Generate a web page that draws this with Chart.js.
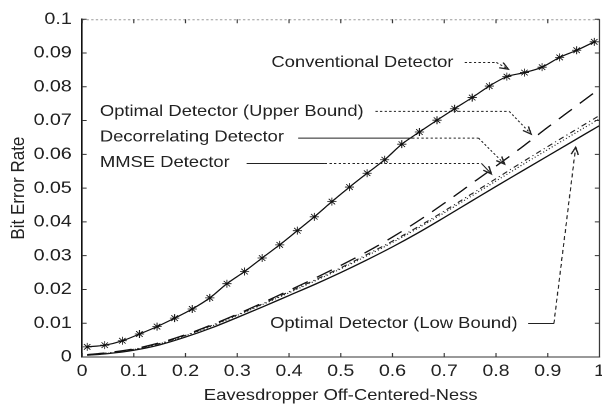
<!DOCTYPE html>
<html>
<head>
<meta charset="utf-8">
<script src="https://cdn.jsdelivr.net/npm/chart.js@4.4.1/dist/chart.umd.min.js"></script>
<style>
  html, body { margin: 0; padding: 0; background: #fff; overflow: hidden; }
  /* the figure is set a little wider than tall, like the printed plot */
  #box { width: 530px; height: 407px; transform: scaleX(1.15); transform-origin: 0 0; }
</style>
</head>
<body>
<div id="box"><canvas id="myChart"></canvas></div>
<script>
// conventional detector, simulated points (asterisks)
let convX = [0.010, 0.044, 0.078, 0.111, 0.145, 0.179, 0.213, 0.247, 0.280, 0.314,
             0.348, 0.382, 0.416, 0.449, 0.483, 0.517, 0.551, 0.585, 0.618, 0.652,
             0.686, 0.720, 0.754, 0.787, 0.821, 0.855, 0.889, 0.923, 0.956, 0.990];
let convBER = [0.0030, 0.0035, 0.0048, 0.0068, 0.0090, 0.0115, 0.0142, 0.0175, 0.0217, 0.0253,
               0.0293, 0.0332, 0.0374, 0.0415, 0.0460, 0.0503, 0.0544, 0.0584, 0.0630, 0.0666,
               0.0701, 0.0735, 0.0768, 0.0802, 0.0830, 0.0842, 0.0858, 0.0887, 0.0908, 0.0933];

// the other four detectors share one x grid
let detX = [0.01, 0.05, 0.10, 0.15, 0.20, 0.25, 0.30, 0.35, 0.40, 0.45, 0.50,
            0.55, 0.60, 0.65, 0.70, 0.75, 0.80, 0.85, 0.90, 0.95, 1.00];
let upperBER = [0.0007, 0.0013, 0.0024, 0.0042, 0.0066, 0.0095, 0.0127, 0.0161, 0.0197, 0.0233, 0.0271,
                0.0311, 0.0355, 0.0403, 0.0455, 0.0510, 0.0565, 0.0621, 0.0680, 0.0737, 0.0794];
let decorBER = [0.0007, 0.0012, 0.0023, 0.0040, 0.0064, 0.0093, 0.0125, 0.0158, 0.0193, 0.0228, 0.0264,
                0.0303, 0.0343, 0.0386, 0.0432, 0.0480, 0.0528, 0.0576, 0.0623, 0.0669, 0.0715];
let mmseBER = [0.0006, 0.0011, 0.0022, 0.0039, 0.0063, 0.0091, 0.0123, 0.0156, 0.0190, 0.0225, 0.0261,
               0.0299, 0.0339, 0.0382, 0.0427, 0.0474, 0.0521, 0.0568, 0.0614, 0.0660, 0.0705];
let lowBER = [0.0005, 0.0010, 0.0020, 0.0036, 0.0059, 0.0086, 0.0117, 0.0149, 0.0182, 0.0215, 0.0250,
              0.0287, 0.0326, 0.0368, 0.0413, 0.0459, 0.0505, 0.0550, 0.0595, 0.0640, 0.0685];

let xTicks = [0, 0.1, 0.2, 0.3, 0.4, 0.5, 0.6, 0.7, 0.8, 0.9, 1];
let xLabels = ['0', '0.1', '0.2', '0.3', '0.4', '0.5', '0.6', '0.7', '0.8', '0.9', '1'];
let yTicks = [0, 0.01, 0.02, 0.03, 0.04, 0.05, 0.06, 0.07, 0.08, 0.09, 0.1];
let yLabels = ['0', '0.01', '0.02', '0.03', '0.04', '0.05', '0.06', '0.07', '0.08', '0.09', '0.1'];

// curve names with their leader lines, in data units; last point is the arrow tip
let notes = [
  {text: 'Conventional Detector', x: 0.366, y: 0.0872,
   path: [[0.7395, 0.0872], [0.8008, 0.0872], [0.8238, 0.0852]], dash: [[2, 2], [2, 2]]},
  {text: 'Optimal Detector (Upper Bound)', x: 0.0345, y: 0.0727,
   path: [[0.567, 0.0727], [0.8257, 0.0727], [0.8678, 0.0660]], dash: [[2, 2], [2, 2]]},
  {text: 'Decorrelating Detector', x: 0.0345, y: 0.0651,
   path: [[0.4176, 0.0648], [0.638, 0.0648], [0.7663, 0.0648], [0.8167, 0.0571]], dash: [[], [2, 2], [2, 2]]},
  {text: 'MMSE Detector', x: 0.0345, y: 0.0576,
   path: [[0.318, 0.0573], [0.4693, 0.0573], [0.772, 0.0573], [0.7912, 0.0542]], dash: [[], [2, 2], []]},
  {text: 'Optimal Detector (Low Bound)', x: 0.3634, y: 0.0099,
   path: [[0.862, 0.0099], [0.9119, 0.0099], [0.954, 0.0621]], dash: [[], [4, 3]]}
];

const fontFamily = '"Liberation Sans", Arial, sans-serif';

function pairs(xs, ys) {
  return xs.map((v, i) => ({x: v, y: ys[i]}));
}

// box edges and the inward tick marks
const frame = {
  id: 'frame',
  afterDatasetsDraw(chart) {
    const {ctx, chartArea: a, scales: {x, y}} = chart;
    ctx.save();
    ctx.lineWidth = 1;
    ctx.strokeStyle = '#999';
    ctx.setLineDash([2, 2]);
    ctx.beginPath();
    ctx.moveTo(a.left, a.top + 0.5);
    ctx.lineTo(a.right, a.top + 0.5);
    ctx.stroke();
    ctx.setLineDash([]);
    ctx.strokeStyle = '#333';
    ctx.beginPath();
    ctx.moveTo(a.right, a.top);
    ctx.lineTo(a.right, a.bottom);
    xTicks.forEach(v => {
      const p = x.getPixelForValue(v);
      ctx.moveTo(p, a.bottom); ctx.lineTo(p, a.bottom - 4);
      ctx.moveTo(p, a.top); ctx.lineTo(p, a.top + 4);
    });
    yTicks.forEach(v => {
      const p = y.getPixelForValue(v);
      ctx.moveTo(a.left, p); ctx.lineTo(a.left + 4, p);
      ctx.moveTo(a.right, p); ctx.lineTo(a.right - 4, p);
    });
    ctx.stroke();
    ctx.restore();
  }
};

// text labels with arrows pointing at the curves
const notesPlugin = {
  id: 'notes',
  afterDatasetsDraw(chart) {
    const {ctx, scales: {x, y}} = chart;
    ctx.save();
    ctx.font = '16px ' + fontFamily;
    ctx.fillStyle = '#222';
    ctx.textBaseline = 'middle';
    ctx.textAlign = 'left';
    notes.forEach(n => {
      ctx.fillText(n.text, x.getPixelForValue(n.x), y.getPixelForValue(n.y));
      const pts = n.path.map(p => [x.getPixelForValue(p[0]), y.getPixelForValue(p[1])]);
      ctx.lineWidth = 1;
      ctx.strokeStyle = '#222';
      for (let i = 1; i < pts.length; i++) {
        ctx.setLineDash(n.dash[i - 1]);
        ctx.beginPath();
        ctx.moveTo(pts[i - 1][0], pts[i - 1][1]);
        ctx.lineTo(pts[i][0], pts[i][1]);
        ctx.stroke();
      }
      ctx.setLineDash([]);
      const [x1, y1] = pts[pts.length - 2];
      const [x2, y2] = pts[pts.length - 1];
      const ang = Math.atan2(y2 - y1, x2 - x1);
      ctx.lineWidth = 1.3;
      ctx.beginPath();
      ctx.moveTo(x2 - 8 * Math.cos(ang - 0.4), y2 - 8 * Math.sin(ang - 0.4));
      ctx.lineTo(x2, y2);
      ctx.lineTo(x2 - 8 * Math.cos(ang + 0.4), y2 - 8 * Math.sin(ang + 0.4));
      ctx.stroke();
    });
    ctx.restore();
  }
};

function chartMaker() {
  let myChart = document.getElementById('myChart').getContext('2d');

  Chart.defaults.font.family = fontFamily;
  Chart.defaults.color = '#222';

  new Chart(myChart, {
    type: 'line',
    data: {
      datasets: [
        {label: 'Conventional Detector', data: pairs(convX, convBER),
         borderColor: '#111', borderWidth: 1.2, pointStyle: 'star', pointRadius: 4,
         pointBorderColor: '#111', pointBorderWidth: 0.8, cubicInterpolationMode: 'monotone'},
        {label: 'Optimal Detector (Upper Bound)', data: pairs(detX, upperBER),
         borderColor: '#111', borderWidth: 1.3, borderDash: [15, 9], pointRadius: 0,
         cubicInterpolationMode: 'monotone'},
        {label: 'Decorrelating Detector', data: pairs(detX, decorBER),
         borderColor: '#222', borderWidth: 1.1, borderDash: [5, 3, 1, 3], pointRadius: 0,
         cubicInterpolationMode: 'monotone'},
        {label: 'MMSE Detector', data: pairs(detX, mmseBER),
         borderColor: '#222', borderWidth: 1.1, borderDash: [1, 2], pointRadius: 0,
         cubicInterpolationMode: 'monotone'},
        {label: 'Optimal Detector (Low Bound)', data: pairs(detX, lowBER),
         borderColor: '#111', borderWidth: 1.3, pointRadius: 0,
         cubicInterpolationMode: 'monotone'}
      ]
    },
    options: {
      responsive: true,
      maintainAspectRatio: false,
      devicePixelRatio: 2,
      animation: false,
      layout: {padding: {left: 0, right: 4.8, top: 13, bottom: 0}},
      plugins: {legend: {display: false}, tooltip: {enabled: false}},
      scales: {
        x: {
          type: 'linear', min: 0, max: 1,
          afterFit: s => { s.height = 50; },
          afterBuildTicks: s => { s.ticks = xTicks.map(v => ({value: v})); },
          ticks: {autoSkip: false, maxRotation: 0, padding: 4, font: {size: 17},
                  callback: (v, i) => xLabels[i]},
          grid: {display: false, drawTicks: false},
          border: {display: true, color: '#333', width: 1},
          title: {display: true, text: 'Eavesdropper Off-Centered-Ness',
                  font: {size: 16}, padding: {top: 0, bottom: 2}}
        },
        y: {
          type: 'linear', min: 0, max: 0.1,
          afterFit: s => { s.width = 71.3; },
          afterBuildTicks: s => { s.ticks = yTicks.map(v => ({value: v})); },
          ticks: {autoSkip: false, padding: 9, font: {size: 17},
                  callback: (v, i) => yLabels[i]},
          grid: {display: false, drawTicks: false},
          border: {display: true, color: '#111', width: 1.3},
          title: {display: true, text: 'Bit Error Rate',
                  font: {size: 17}, padding: {top: 6, bottom: 0}}
        }
      }
    },
    plugins: [frame, notesPlugin]
  });
}

chartMaker();
</script>
</body>
</html>
